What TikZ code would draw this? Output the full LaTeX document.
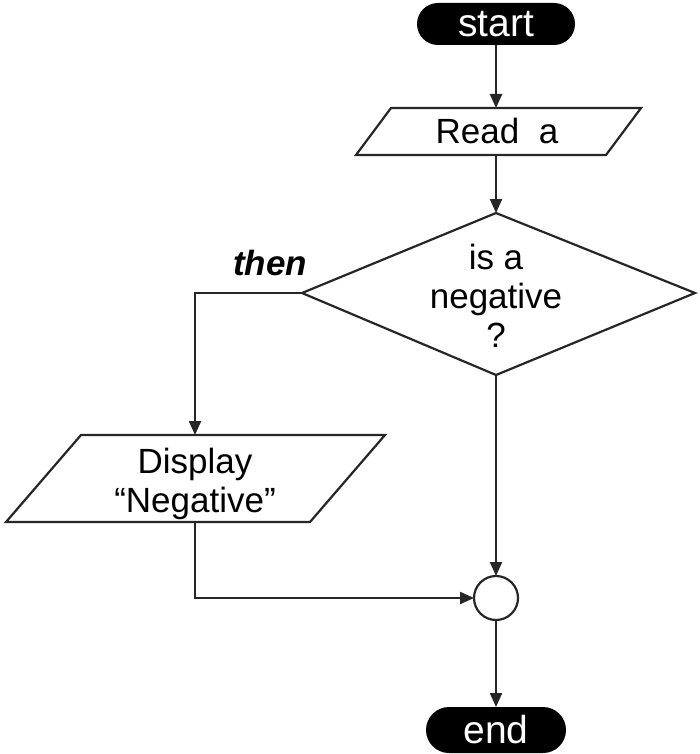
\documentclass[tikz,border=0pt]{standalone}
\usepackage{fontspec}
\setmainfont{Liberation Sans}
\usetikzlibrary{arrows.meta}
\begin{document}
\begin{tikzpicture}[x=1pt,y=-1pt,
  every node/.style={font=\fontsize{35}{39}\selectfont},
  shp/.style={draw=black!85,line width=2.2pt,line join=miter},
  con/.style={draw=black!85,line width=2.2pt},
  arr/.style={con,-{Triangle[length=14pt,width=12pt]}},
  term/.style={fill=black,text=white,font=\fontsize{39}{42}\selectfont,rounded corners=21pt,minimum width=158pt,minimum height=42pt,inner sep=0pt,outer sep=0pt},
  txt/.style={align=center,inner sep=0pt}]
\useasboundingbox (0,0) rectangle (700,754);
% terminals
\node[term] (start) at (496,24) {start};
\node[term,minimum width=140pt,minimum height=46pt,rounded corners=23pt] (end) at (496,730) {end};
% read parallelogram
\coordinate (rBL) at (356,155); \coordinate (rTL) at (391,108);
\coordinate (rTR) at (641,108); \coordinate (rBR) at (606,155);
\coordinate (rT) at (496,108); \coordinate (rB) at (496,155);
\draw[shp] (rBL) -- (rTL) -- (rTR) -- (rBR) -- cycle;
\node[txt] (read) at (497,131) {Read\ \ a};
% diamond
\coordinate (dT) at (496,213); \coordinate (dL) at (302,293);
\coordinate (dR) at (695,293); \coordinate (dB) at (496,375);
\draw[shp] (dT) -- (dR) -- (dB) -- (dL) -- cycle;
\node[txt] (dec) at (496,296) {is a\\negative\\?};
% display parallelogram
\coordinate (pBL) at (6,522); \coordinate (pTL) at (81,435);
\coordinate (pTR) at (385,435); \coordinate (pBR) at (310,522);
\coordinate (pT) at (195,435); \coordinate (pB) at (195,522);
\draw[shp] (pBL) -- (pTL) -- (pTR) -- (pBR) -- cycle;
\node[txt] (disp) at (195,484) {Display\\\textquotedblleft Negative\textquotedblright};
% junction
\node[circle,draw=black!85,line width=2.2pt,minimum size=44pt,inner sep=0pt,outer sep=0pt] (j) at (496,598) {};
% label
\node[txt,font=\fontsize{35}{39}\selectfont\bfseries\itshape] (then) at (270,263) {then};
% connectors
\draw[arr] (start) -- (rT);
\draw[arr] (rB) -- (dT);
\draw[arr] (dL) -| (pT);
\draw[arr] (dB) -- (j);
\draw[arr] (pB) |- (j);
\draw[arr] (j) -- (end);
\end{tikzpicture}
\end{document}
